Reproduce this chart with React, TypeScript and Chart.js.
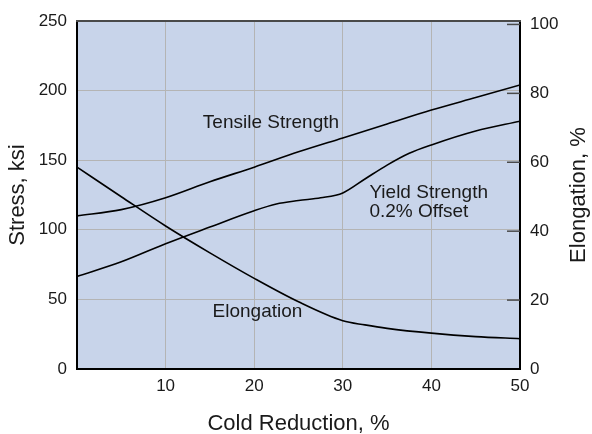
import React, { useEffect, useRef } from "react";
import { Chart, registerables } from "chart.js";

Chart.register(...registerables);

// ---- data ----
const tensileX = [0, 5, 10, 15, 20, 25, 30, 35, 40, 45, 50];
const tensileKsi = [110, 114.5, 123, 134.5, 145, 156, 166, 176, 186, 195, 204];

const yieldX = [0, 5, 10, 15, 20, 22.5, 25, 27.5, 30, 32.5, 35, 37.5, 40, 45, 50];
const yieldKsi = [66.5, 77, 90, 102, 113.7, 118.5, 121, 123, 126.5, 136.5, 146.5, 155, 161, 171, 178];

const elongX = [0, 5, 10, 15, 20, 25, 30, 32.5, 35, 40, 45, 50];
const elongPct = [58.6, 50, 41.5, 33.7, 26.3, 19.5, 14, 12.8, 11.8, 10.4, 9.4, 8.8];

const xTicks = [0, 10, 20, 30, 40, 50];
const stressTicks = [0, 50, 100, 150, 200, 250];
const elongTicks = [0, 20, 40, 60, 80, 100];

const xTitle = "Cold Reduction, %";
const yTitle = "Stress, ksi";
const y2Title = "Elongation, %";

const curveLabels = [
  { lines: ["Tensile Strength"], x: 14.2, y: 173 },
  { lines: ["Yield Strength", "0.2% Offset"], x: 33, y: 122.6 },
  { lines: ["Elongation"], x: 15.3, y: 37.1 },
];

// ---- style ----
const FONT = '"Liberation Sans", Arial, Helvetica, sans-serif';
const TEXT = "#1a1a1a";
const BG = "#c8d4ea";
const GRID = "#b4b4b4";

const toPts = (xs: number[], ys: number[]) => xs.map((x, i) => ({ x, y: ys[i] }));

export default function App() {
  const ref = useRef<HTMLCanvasElement>(null);

  useEffect(() => {
    document.body.style.margin = "0";
    const canvas = ref.current!;

    const decor = {
      id: "decor",
      beforeDraw(chart: any) {
        const { ctx, chartArea: a } = chart;
        ctx.save();
        ctx.fillStyle = BG;
        ctx.fillRect(a.left, a.top, a.right - a.left, a.bottom - a.top);
        ctx.restore();
      },
      afterDatasetsDraw(chart: any) {
        const { ctx, scales } = chart;
        ctx.save();
        ctx.font = `19px ${FONT}`;
        ctx.fillStyle = TEXT;
        ctx.textAlign = "left";
        ctx.textBaseline = "alphabetic";
        for (const l of curveLabels) {
          const px = scales.x.getPixelForValue(l.x);
          const py = scales.y.getPixelForValue(l.y);
          l.lines.forEach((t, i) => ctx.fillText(t, px, py + i * 18.4));
        }
        ctx.restore();
      },
      afterDraw(chart: any) {
        const { ctx, chartArea: a, scales } = chart;
        ctx.save();
        // top border
        ctx.strokeStyle = "#4a4a4a";
        ctx.lineWidth = 2;
        ctx.beginPath();
        ctx.moveTo(a.left - 1, a.top);
        ctx.lineTo(a.right + 1, a.top);
        ctx.stroke();
        // inward ticks on the right axis
        ctx.strokeStyle = "#4a4a4a";
        ctx.lineWidth = 1.5;
        for (const v of elongTicks) {
          if (v === 0) continue;
          const py = scales.y2.getPixelForValue(v);
          ctx.beginPath();
          ctx.moveTo(a.right - 13, py);
          ctx.lineTo(a.right, py);
          ctx.stroke();
        }
        // right axis title, reading bottom-to-top
        ctx.translate(a.right + 59, (a.top + a.bottom) / 2);
        ctx.rotate(-Math.PI / 2);
        ctx.font = `22px ${FONT}`;
        ctx.fillStyle = TEXT;
        ctx.textAlign = "center";
        ctx.textBaseline = "middle";
        ctx.fillText(y2Title, 0, 0);
        ctx.restore();
      },
    };

    const tickFont = { size: 17, family: FONT };

    const chart = new Chart(canvas, {
      type: "line",
      data: {
        datasets: [
          { label: "Tensile Strength", data: toPts(tensileX, tensileKsi), yAxisID: "y" },
          { label: "Yield Strength", data: toPts(yieldX, yieldKsi), yAxisID: "y" },
          { label: "Elongation", data: toPts(elongX, elongPct), yAxisID: "y2" },
        ].map((d) => ({
          ...d,
          borderColor: "#000",
          borderWidth: 1.6,
          pointRadius: 0,
          fill: false,
          cubicInterpolationMode: "monotone" as const,
        })),
      },
      options: {
        responsive: false,
        animation: false,
        devicePixelRatio: 1,
        layout: { padding: { top: 21, left: 0, right: 0, bottom: 0 } },
        plugins: { legend: { display: false }, tooltip: { enabled: false } },
        scales: {
          x: {
            type: "linear",
            min: 0,
            max: 50,
            afterBuildTicks: (s: any) => {
              s.ticks = xTicks.map((v) => ({ value: v }));
            },
            afterFit: (s: any) => {
              s.height = 65;
            },
            grid: { color: GRID, lineWidth: 1, drawTicks: false },
            border: { color: "#000", width: 2 },
            ticks: {
              padding: 7,
              font: tickFont,
              color: TEXT,
              maxRotation: 0,
              autoSkip: false,
              callback: (v: any) => (v === 0 ? "" : String(v)),
            },
            title: {
              display: true,
              text: xTitle,
              color: TEXT,
              font: { size: 22, family: FONT, lineHeight: 0.9 },
              padding: 0,
            },
          },
          y: {
            type: "linear",
            position: "left",
            min: 0,
            max: 250,
            afterBuildTicks: (s: any) => {
              s.ticks = stressTicks.map((v) => ({ value: v }));
            },
            afterFit: (s: any) => {
              s.width = 77;
            },
            grid: { color: GRID, lineWidth: 1, drawTicks: false },
            border: { color: "#000", width: 2 },
            ticks: { padding: 10, font: tickFont, color: TEXT },
            title: {
              display: true,
              text: yTitle,
              color: TEXT,
              font: { size: 22, family: FONT },
              padding: { top: 5, bottom: 0 },
            },
          },
          y2: {
            type: "linear",
            position: "right",
            min: 0,
            max: 101,
            afterBuildTicks: (s: any) => {
              s.ticks = elongTicks.map((v) => ({ value: v }));
            },
            afterFit: (s: any) => {
              s.width = 72;
            },
            grid: { drawOnChartArea: false, drawTicks: false },
            border: { color: "#000", width: 2 },
            ticks: { padding: 10, font: tickFont, color: TEXT },
          },
        },
      },
      plugins: [decor],
    });

    return () => chart.destroy();
  }, []);

  return (
    <div style={{ width: 592, height: 434 }}>
      <canvas ref={ref} width={592} height={434} style={{ display: "block", width: 592, height: 434 }} />
    </div>
  );
}
